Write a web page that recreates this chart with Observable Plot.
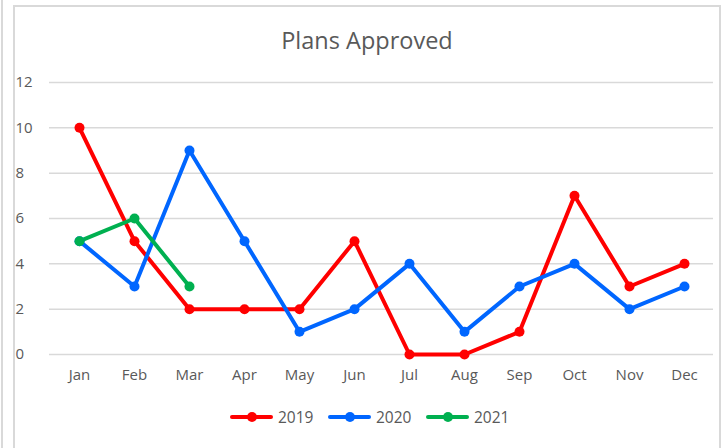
<!DOCTYPE html>
<html>
<head>
<meta charset="utf-8">
<script src="https://cdn.jsdelivr.net/npm/d3@7"></script>
<script src="https://cdn.jsdelivr.net/npm/@observablehq/plot@0.6"></script>
<style>
  html, body { margin: 0; padding: 0; background: #fff; }
  #wrap { position: relative; width: 726px; height: 448px; overflow: hidden; font-family: "Open Sans", sans-serif; }
  #outer { position: absolute; left: 1px; top: 0; width: 2px; height: 448px; background: #d9d9d9; }
  #box { position: absolute; left: 13px; top: 5px; width: 708px; height: 460px; border: 2px solid #d9d9d9; box-sizing: border-box; }
  #title { position: absolute; left: 0; width: 734px; top: 29px; line-height: 23px; text-align: center; font-size: 23.5px; color: #595959; }
  #legend { position: absolute; top: 407px; left: 0; width: 726px; font-size: 15.5px; color: #595959; }
  .item { position: absolute; display: flex; align-items: center; height: 20px; }
  .sw { position: relative; width: 43px; height: 20px; margin-right: 5px; }
  .sw .ln { position: absolute; left: 0; right: 0; top: 8px; height: 4px; border-radius: 2px; }
  .sw .dt { position: absolute; left: 17px; top: 5px; width: 10px; height: 10px; border-radius: 5px; }
  #chart { position: absolute; left: 0; top: 0; }
</style>
</head>
<body>
<div id="wrap">
  <div id="outer"></div>
  <div id="box"></div>
  <div id="chart"></div>
  <div id="title">Plans Approved</div>
  <div id="legend"></div>
</div>
<script>
const months = ["Jan","Feb","Mar","Apr","May","Jun","Jul","Aug","Sep","Oct","Nov","Dec"];
const series = ["2019","2020","2021"];
const colors = ["#ff0000","#0066ff","#00b050"];
const values2019 = [10,5,2,2,2,5,0,0,1,7,3,4];
const values2020 = [5,3,9,5,1,2,4,1,3,4,2,3];
const values2021 = [5,6,3];
const yTicks = [0,2,4,6,8,10,12];

const seriesValues = [values2019, values2020, values2021];
const data = [];
seriesValues.forEach((vals, i) => vals.forEach((v, j) => data.push({series: series[i], month: months[j], value: v})));

const plot = Plot.plot({
  width: 726,
  height: 448,
  marginLeft: 49,
  marginRight: 13,
  marginTop: 82,
  marginBottom: 94,
  style: {background: "transparent", fontFamily: "'Open Sans', sans-serif", overflow: "visible"},
  x: {type: "point", domain: months, padding: 0.5, axis: null},
  y: {domain: [0, 12], axis: null},
  color: {domain: series, range: colors},
  marks: [
    Plot.ruleY(yTicks, {stroke: "#d9d9d9", strokeWidth: 1.5}),
    Plot.text(yTicks, {y: d => d, text: d => String(d), frameAnchor: "left", textAnchor: "start", dx: -34, fill: "#595959", fontSize: 15}),
    Plot.text(months, {x: d => d, text: d => d, frameAnchor: "bottom", dy: 25, fill: "#595959", fontSize: 15}),
    Plot.line(data, {x: "month", y: "value", z: "series", stroke: "series", strokeWidth: 4, strokeLinejoin: "round", strokeLinecap: "round"}),
    Plot.dot(data, {x: "month", y: "value", fill: "series", r: 5, stroke: "none"})
  ]
});
document.getElementById("chart").appendChild(plot);

const legendPos = [230, 328, 426];
const leg = document.getElementById("legend");
series.forEach((s, i) => {
  const item = document.createElement("div");
  item.className = "item";
  item.style.left = legendPos[i] + "px";
  item.innerHTML = `<div class="sw"><div class="ln" style="background:${colors[i]}"></div><div class="dt" style="background:${colors[i]}"></div></div><span>${s}</span>`;
  leg.appendChild(item);
});
</script>
</body>
</html>
